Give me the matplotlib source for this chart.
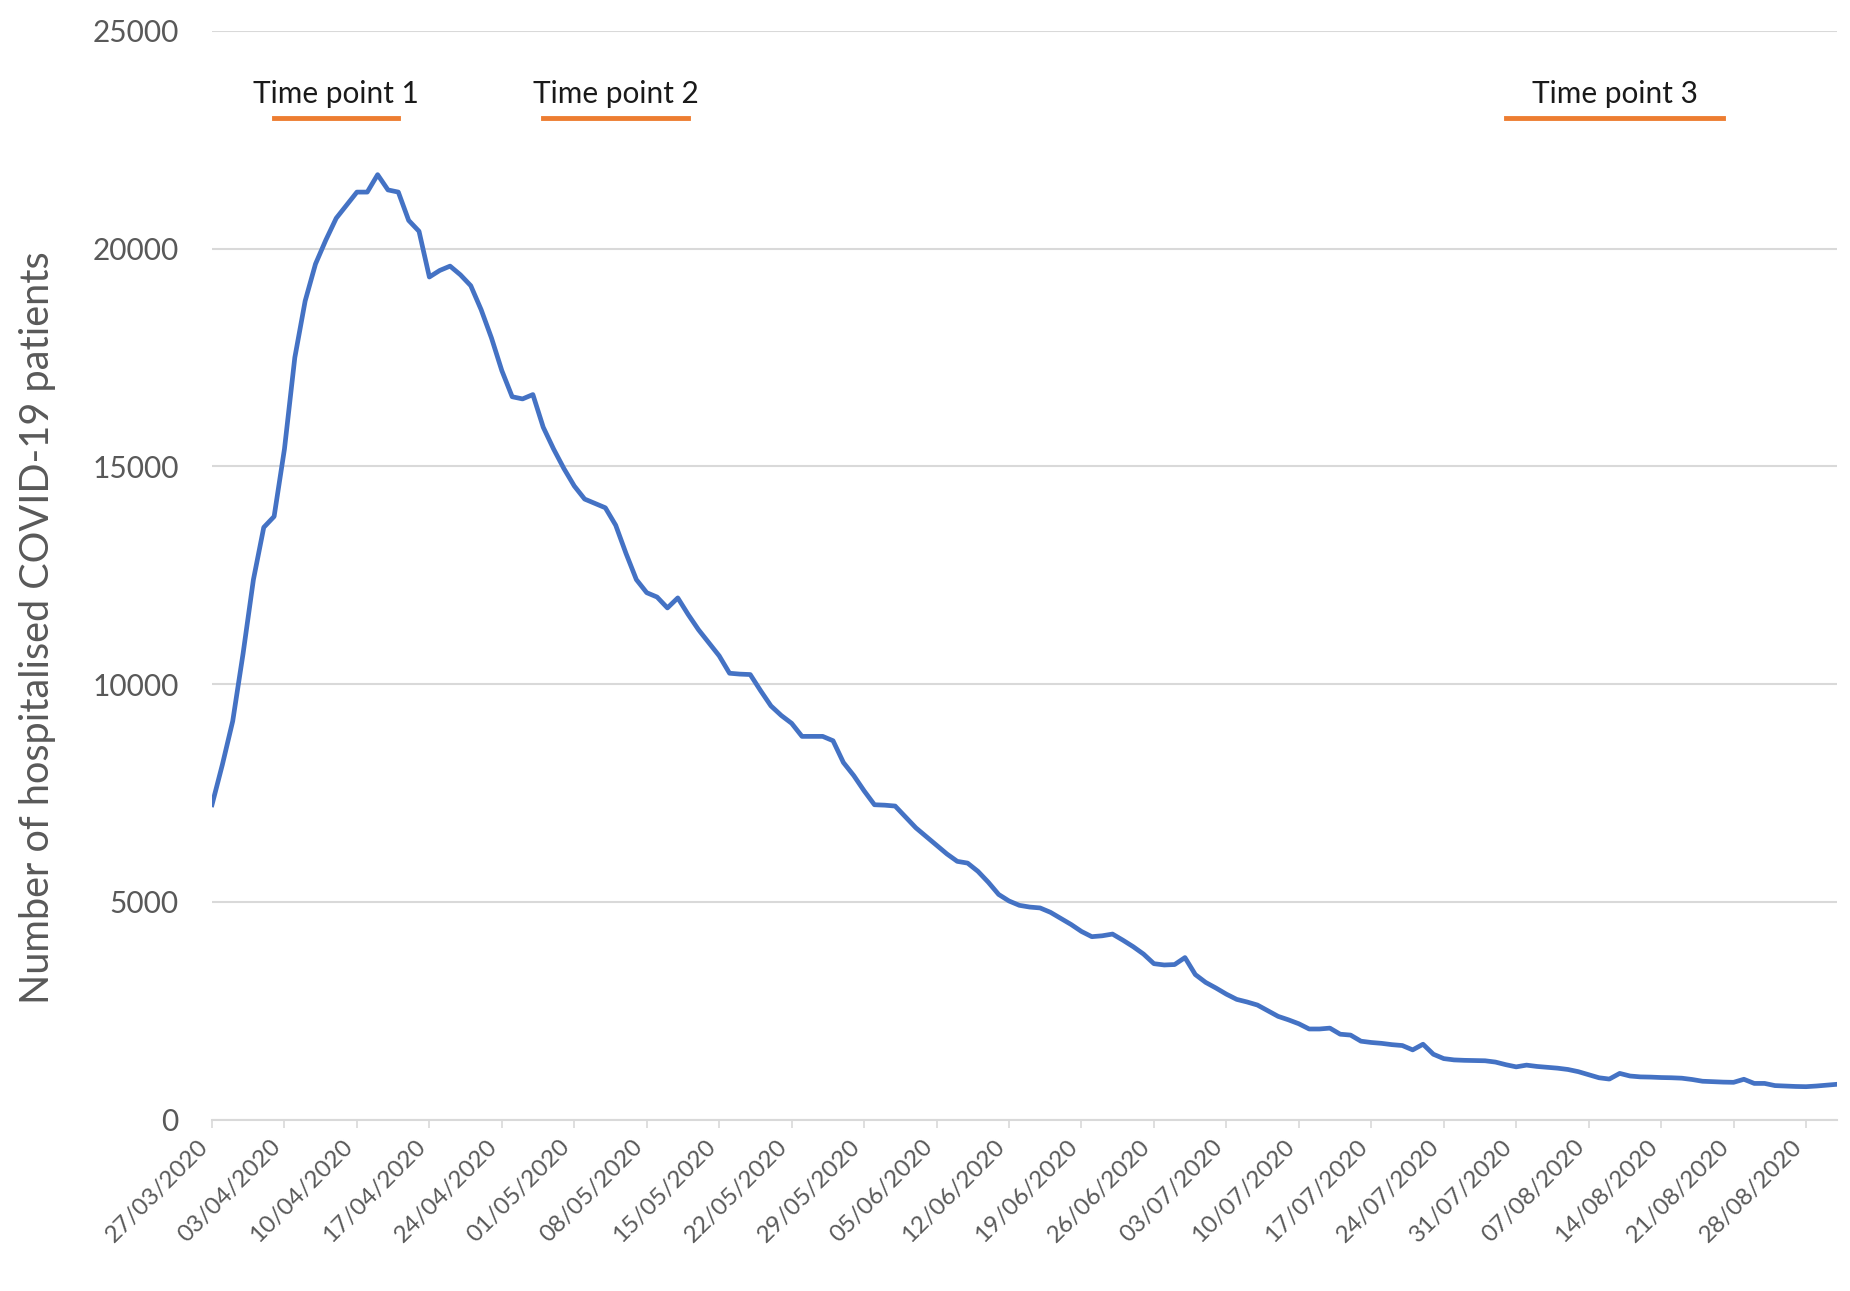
import numpy as np
import pandas as pd
import matplotlib
matplotlib.use("Agg")
import matplotlib.pyplot as plt
import matplotlib.dates as mdates

# Daily hospitalised COVID-19 patients, starting 27/03/2020
start_date = "2020-03-27"
patients = [
    7230, 8150, 9150, 10700, 12400, 13600, 13850, 15400, 17500, 18800,
    19650, 20200, 20700, 21000, 21300, 21300, 21700, 21350, 21300, 20650,
    20400, 19350, 19500, 19600, 19400, 19150, 18600, 17950, 17200, 16600,
    16550, 16650, 15900, 15400, 14950, 14550, 14250, 14150, 14050, 13650,
    13000, 12400, 12100, 12000, 11750, 11980, 11600, 11250, 10950, 10650,
    10250, 10230, 10220, 9850, 9500, 9280, 9100, 8800, 8800, 8800,
    8700, 8200, 7900, 7550, 7230, 7220, 7200, 6950, 6700, 6500,
    6300, 6100, 5930, 5890, 5700, 5450, 5170, 5020, 4920, 4880,
    4860, 4760, 4620, 4480, 4320, 4200, 4220, 4260, 4120, 3970,
    3800, 3580, 3550, 3560, 3720, 3330, 3150, 3020, 2880, 2760,
    2700, 2630, 2500, 2370, 2290, 2200, 2080, 2080, 2100, 1960,
    1940, 1800, 1770, 1750, 1720, 1700, 1600, 1730, 1500, 1400,
    1370, 1360, 1355, 1350, 1320, 1260, 1210, 1250, 1220, 1200,
    1180, 1150, 1100, 1030, 960, 930, 1060, 1000, 980, 975,
    965, 960, 950, 920, 880, 870, 860, 855, 925, 830,
    830, 780, 770, 760, 755, 770, 790, 810,
]

# Time point windows (start, end) and their labels
tp_labels = ["Time point 1", "Time point 2", "Time point 3"]
tp_starts = ["2020-04-02", "2020-04-28", "2020-07-30"]
tp_ends = ["2020-04-14", "2020-05-12", "2020-08-20"]
tp_level = 23000

dates = pd.date_range(start_date, periods=len(patients), freq="D")

fig = plt.figure(figsize=(18.5, 12.91), dpi=100)
ax = fig.add_axes([0.1146, 0.1328, 0.8784, 0.8432])

ax.plot(dates, patients, color="#4472C4", lw=3.4, zorder=3)

for lab, s, e in zip(tp_labels, tp_starts, tp_ends):
    s = pd.Timestamp(s)
    e = pd.Timestamp(e)
    ax.plot([s, e], [tp_level, tp_level], color="#ED7D31", lw=3.5, zorder=3)
    ax.text(s + (e - s) / 2, tp_level + 560, lab, ha="center", va="center",
            fontsize=21.5, color="#1a1a1a", family="Lato")

ax.set_xlim(dates[0], dates[-1])
ax.set_ylim(0, 25000)
ax.set_yticks(np.arange(0, 25001, 5000))

ax.set_xticks(pd.date_range(start_date, dates[-1], freq="7D"))
ax.xaxis.set_major_formatter(mdates.DateFormatter("%d/%m/%Y"))
plt.setp(ax.get_xticklabels(), rotation=45, ha="right", va="top")

ax.grid(axis="y", color="#D9D9D9", lw=1.5)
ax.set_axisbelow(True)
for side in ["top", "right", "left"]:
    ax.spines[side].set_visible(False)
ax.spines["bottom"].set_color("#D9D9D9")
ax.spines["bottom"].set_linewidth(1.5)

ax.tick_params(axis="y", length=0, pad=24, labelsize=21.5, labelcolor="#595959")
ax.tick_params(axis="x", length=6, width=1.2, color="#D9D9D9", pad=6,
               labelsize=17.5, labelcolor="#595959")
for t in ax.get_xticklabels() + ax.get_yticklabels():
    t.set_family("Lato")

ax.set_ylabel("Number of hospitalised COVID-19 patients", fontsize=28.5,
              color="#595959", family="Lato")
ax.yaxis.set_label_coords(-0.096, 0.452)

fig.savefig("out.png", dpi=100, facecolor="white")
